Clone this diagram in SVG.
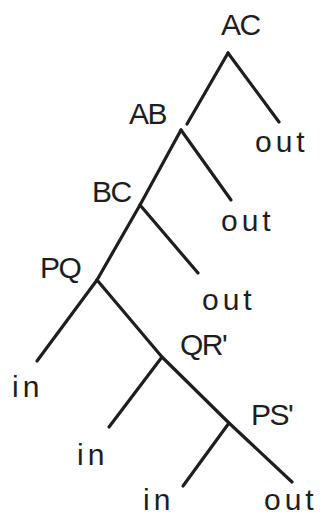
<svg xmlns="http://www.w3.org/2000/svg" width="321" height="519" viewBox="0 0 321 519">
<style>
.lbl{font-family:"Liberation Sans",Arial,sans-serif;font-size:30px;fill:#1e1e1e;letter-spacing:-1.5px}
.leaf{font-family:"Liberation Sans",Arial,sans-serif;font-size:30px;fill:#1e1e1e;letter-spacing:4px}
.edge{stroke:#1e1e1e;stroke-width:3.2;fill:none;stroke-linecap:round;stroke-linejoin:round}
</style>
<rect width="321" height="519" fill="#ffffff"/>
<g id="connectors">
<line class="edge" x1="228" y1="53" x2="187" y2="124"/>
<line class="edge" x1="228" y1="53" x2="279" y2="122"/>
<line class="edge" x1="181" y1="130" x2="140" y2="205"/>
<line class="edge" x1="181" y1="130" x2="231" y2="200"/>
<line class="edge" x1="140" y1="205" x2="97" y2="280"/>
<line class="edge" x1="140" y1="205" x2="198" y2="273"/>
<line class="edge" x1="97" y1="280" x2="37" y2="361"/>
<polyline class="edge" points="97,280 162,357 229,423 292,482"/>
<line class="edge" x1="162" y1="357" x2="109" y2="427"/>
<line class="edge" x1="229" y1="423" x2="183" y2="486"/>
</g>
<g id="node-AC"><text class="lbl" x="221" y="35">AC</text></g>
<g id="node-AB"><text class="lbl" x="129" y="124">AB</text></g>
<g id="node-BC"><text class="lbl" x="92" y="202">BC</text></g>
<g id="node-PQ"><text class="lbl" x="40" y="278">PQ</text></g>
<g id="node-QR"><text class="lbl" x="180" y="355">QR'</text></g>
<g id="node-PS"><text class="lbl" x="251" y="425">PS'</text></g>
<g id="leaf-out1"><text class="leaf" x="255" y="152">out</text></g>
<g id="leaf-out2"><text class="leaf" x="221" y="231">out</text></g>
<g id="leaf-out3"><text class="leaf" x="202" y="310">out</text></g>
<g id="leaf-in1"><text class="leaf" x="12" y="397">in</text></g>
<g id="leaf-in2"><text class="leaf" x="77" y="465">in</text></g>
<g id="leaf-in3"><text class="leaf" x="143" y="510">in</text></g>
<g id="leaf-out4"><text class="leaf" x="264" y="510">out</text></g>
</svg>
